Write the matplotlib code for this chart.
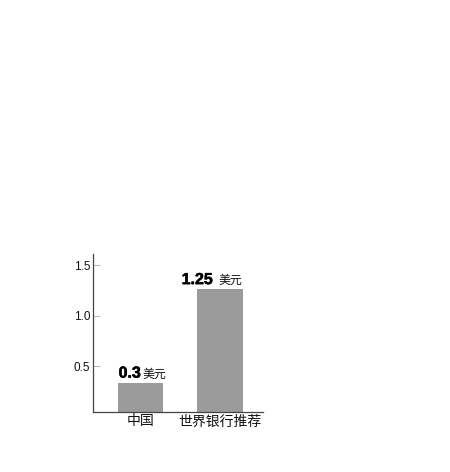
import matplotlib
matplotlib.use("Agg")
import matplotlib.pyplot as plt
import matplotlib.patheffects as pe

categories = ["中国", "世界银行推荐"]
values = [0.335, 1.26]
value_labels = ["0.3", "1.25"]
unit_label = "美元"
yticks = [0.5, 1.0, 1.5]
ytick_labels = ["0.5", "1.0", "1.5"]

W, H = 450, 472
fig = plt.figure(figsize=(W / 100, H / 100), dpi=100)
fig.patch.set_facecolor("white")
ax = fig.add_axes([93 / W, (H - 411.7) / H, (263 - 93) / W, (411.7 - 254) / H])

x = list(range(len(categories)))
ax.bar(x, values, width=0.57, color="#9b9b9b", zorder=2)
ax.set_xlim(-0.597, 1.54)
ax.set_ylim(0.05, 1.61)

for s in ["top", "right"]:
    ax.spines[s].set_visible(False)
for s in ["left", "bottom"]:
    ax.spines[s].set_color("#444444")
    ax.spines[s].set_linewidth(0.9)

ax.set_yticks(yticks)
ax.set_yticklabels(ytick_labels, fontfamily="Liberation Sans", fontsize=8.5, color="#111111")
ax.tick_params(axis="y", direction="in", length=5, width=0.8, color="#bbbbbb", pad=2)
ax.yaxis.get_major_ticks()[-1].tick1line.set_color("#444444")

ax.set_xticks(x)
ax.set_xticklabels(categories, fontfamily="Noto Sans CJK SC", fontsize=10, color="#111111")
ax.tick_params(axis="x", length=0, pad=2)

# per-bar horizontal offsets (px) of the number's right edge from bar centre
num_offsets = [0.5, -7]
unit_gaps = [1.5, 5]
for xi, v, lab, off, gap in zip(x, values, value_labels, num_offsets, unit_gaps):
    ax.annotate(lab, xy=(xi, v), xytext=(off * 0.72, 3.8), textcoords="offset points",
                ha="right", va="baseline", fontfamily="Liberation Sans", fontweight="bold",
                fontsize=11.5, color="#000000",
                path_effects=[pe.withStroke(linewidth=0.35, foreground="#000000")])
    ax.annotate(unit_label, xy=(xi, v), xytext=((off + gap) * 0.72, 3.8), textcoords="offset points",
                ha="left", va="baseline", fontfamily="Noto Sans CJK SC",
                fontsize=8.6, color="#111111")

fig.savefig("out.png", dpi=100)
